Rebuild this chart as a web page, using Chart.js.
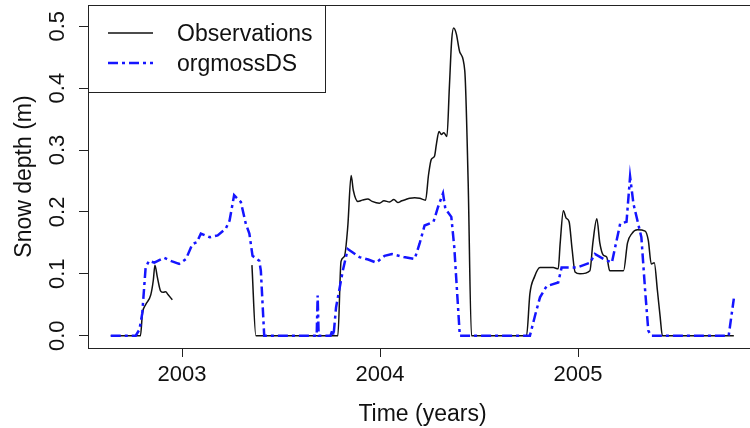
<!DOCTYPE html>
<html>
<head>
<meta charset="utf-8">
<script src="https://cdn.jsdelivr.net/npm/chart.js@4"></script>
<style>
  html, body { margin: 0; padding: 0; background: #fff; overflow: hidden; }
  #wrap { width: 760px; height: 428px; position: relative; }
</style>
</head>
<body>
<div id="wrap"><canvas id="myChart"></canvas></div>
<script>
// observed snow depth (m), null = missing record
const obsTime = [2002.64, 2002.79, 2002.80, 2002.816, 2002.842, 2002.855, 2002.863, 2002.875, 2002.892, 2002.905, 2002.917, 2002.93, 2002.951,
  2003.15,
  2003.353, 2003.373, 2003.787, 2003.803, 2003.82, 2003.837, 2003.854, 2003.865, 2003.888, 2003.91, 2003.938, 2003.96, 2003.997,
  2004.02, 2004.048, 2004.07, 2004.09, 2004.11, 2004.13, 2004.15, 2004.175, 2004.2, 2004.23, 2004.245, 2004.259, 2004.275, 2004.285,
  2004.298, 2004.31, 2004.322, 2004.338, 2004.35, 2004.362, 2004.372, 2004.385, 2004.403, 2004.428, 2004.445, 2004.462,
  2004.74, 2004.757, 2004.78, 2004.808, 2004.875, 2004.9, 2004.91, 2004.926, 2004.94, 2004.955, 2004.97, 2004.985, 2005.01,
  2005.06, 2005.075, 2005.095, 2005.11, 2005.128, 2005.145, 2005.16, 2005.23, 2005.25, 2005.272, 2005.3, 2005.339, 2005.355,
  2005.37, 2005.385, 2005.401, 2005.415, 2005.426, 2005.787];
const obsDepth = [0, 0, 0.036, 0.05, 0.066, 0.09, 0.114, 0.095, 0.072, 0.07, 0.071, 0.066, 0.058,
  null,
  0.114, 0, 0, 0.12, 0.128, 0.176, 0.259, 0.235, 0.217, 0.219, 0.221, 0.217, 0.214,
  0.218, 0.216, 0.22, 0.215, 0.218, 0.22, 0.222, 0.223, 0.222, 0.219, 0.26, 0.285, 0.29, 0.31,
  0.33, 0.325, 0.328, 0.322, 0.4, 0.478, 0.497, 0.488, 0.458, 0.428, 0.25, 0,
  0, 0.068, 0.095, 0.11, 0.11, 0.108, 0.15, 0.202, 0.19, 0.184, 0.14, 0.103, 0.1,
  0.105, 0.15, 0.189, 0.15, 0.13, 0.127, 0.105, 0.105, 0.15, 0.165, 0.171, 0.169, 0.154,
  0.116, 0.118, 0.073, 0.03, 0, 0];

// modelled snow depth (m), orgmossDS run
const simTime = [2002.64, 2002.766, 2002.785, 2002.799, 2002.816, 2002.833, 2002.86, 2002.909, 2002.95, 2002.985, 2003.02, 2003.052,
  2003.075, 2003.095, 2003.14, 2003.18, 2003.221, 2003.24, 2003.263, 2003.297, 2003.322, 2003.34, 2003.356, 2003.39, 2003.398,
  2003.415, 2003.68, 2003.685, 2003.69, 2003.75, 2003.76, 2003.765, 2003.778, 2003.812, 2003.837, 2003.896, 2003.94, 2003.981,
  2004.023, 2004.06, 2004.12, 2004.175, 2004.2, 2004.225, 2004.27, 2004.293, 2004.318, 2004.33, 2004.36, 2004.375, 2004.403,
  2004.757, 2004.785, 2004.808, 2004.841, 2004.9, 2004.917, 2004.993, 2005.061, 2005.085, 2005.128, 2005.171, 2005.213,
  2005.245, 2005.263, 2005.28, 2005.3, 2005.32, 2005.339, 2005.355, 2005.37, 2005.761, 2005.787];
const simDepth = [0, 0, 0.01, 0.036, 0.11, 0.121, 0.118, 0.126, 0.12, 0.116, 0.124, 0.148,
  0.151, 0.165, 0.159, 0.162, 0.173, 0.186, 0.227, 0.216, 0.181, 0.165, 0.129, 0.121, 0.105,
  0, 0, 0.065, 0, 0, 0.01, 0, 0.046, 0.105, 0.14, 0.127, 0.123, 0.118,
  0.129, 0.132, 0.127, 0.124, 0.149, 0.178, 0.184, 0.208, 0.23, 0.205, 0.192, 0.143, 0,
  0, 0.035, 0.062, 0.08, 0.086, 0.11, 0.11, 0.118, 0.132, 0.124, 0.118, 0.181,
  0.184, 0.257, 0.213, 0.186, 0.159, 0.073, 0.008, 0, 0, 0.06];

const xTicks = [2003, 2004, 2005];
const yTicks = [0, 0.1, 0.2, 0.3, 0.4, 0.5];
const yTickLabels = ['0.0', '0.1', '0.2', '0.3', '0.4', '0.5'];

const FONT = '"Liberation Sans", Arial, sans-serif';

const rStyle = {
  id: 'rStyle',
  afterDraw(chart) {
    const ctx = chart.ctx, a = chart.chartArea, ys = chart.scales.y;
    ctx.save();
    // plot box
    ctx.strokeStyle = '#222';
    ctx.lineWidth = 1;
    ctx.strokeRect(a.left + 0.5, a.top + 0.5, a.right - a.left, a.bottom - a.top);
    // y tick labels parallel to the axis
    ctx.fillStyle = '#111';
    ctx.font = '22px ' + FONT;
    ctx.textAlign = 'center';
    ctx.textBaseline = 'middle';
    yTicks.forEach((v, i) => {
      ctx.save();
      ctx.translate(a.left - 30, ys.getPixelForValue(v));
      ctx.rotate(-Math.PI / 2);
      ctx.fillText(yTickLabels[i], 0, 0);
      ctx.restore();
    });
    // legend
    ctx.fillStyle = '#fff';
    ctx.fillRect(a.left + 0.5, a.top + 0.5, 325 - a.left, 87);
    ctx.strokeRect(a.left + 0.5, a.top + 0.5, 325 - a.left, 87);
    const rows = [33, 63];
    chart.data.datasets.forEach((ds, i) => {
      ctx.strokeStyle = ds.borderColor;
      ctx.lineWidth = ds.borderWidth;
      ctx.setLineDash(ds.borderDash || []);
      ctx.beginPath();
      ctx.moveTo(108, rows[i]);
      ctx.lineTo(153, rows[i]);
      ctx.stroke();
      ctx.setLineDash([]);
      ctx.fillStyle = '#111';
      ctx.font = '23px ' + FONT;
      ctx.textAlign = 'left';
      ctx.textBaseline = 'middle';
      ctx.fillText(ds.label, 177, rows[i] + 2);
    });
    ctx.restore();
  }
};

const ctx = document.getElementById('myChart').getContext('2d');
const myChart = new Chart(ctx, {
  type: 'line',
  data: {
    datasets: [{
      label: 'Observations',
      data: obsTime.map((t, i) => ({ x: t, y: obsDepth[i] })),
      borderColor: '#111',
      borderWidth: 1.5,
      pointRadius: 0,
      cubicInterpolationMode: 'monotone',
      spanGaps: false,
      order: 1
    }, {
      label: 'orgmossDS',
      data: simTime.map((t, i) => ({ x: t, y: simDepth[i] })),
      borderColor: '#1515ff',
      borderWidth: 2.5,
      borderDash: [10, 4, 3, 4],
      pointRadius: 0,
      tension: 0,
      order: 0
    }]
  },
  options: {
    responsive: true,
    maintainAspectRatio: false,
    animation: false,
    layout: { padding: { top: 5, right: 3, bottom: 0, left: 0 } },
    plugins: { legend: { display: false }, tooltip: { enabled: false } },
    scales: {
      x: {
        type: 'linear',
        min: 2002.525,
        max: 2005.904,
        afterBuildTicks: s => { s.ticks = xTicks.map(v => ({ value: v })); },
        afterFit: s => { s.height = 80; },
        border: { display: false },
        grid: { drawOnChartArea: false, tickLength: 9, color: '#222' },
        ticks: { color: '#111', padding: 5, maxRotation: 0, font: { family: FONT, size: 22 }, callback: v => String(v) },
        title: { display: true, text: 'Time (years)', color: '#111', font: { family: FONT, size: 23 }, padding: { top: 0, bottom: 0 } }
      },
      y: {
        min: -0.0199,
        max: 0.5343,
        afterBuildTicks: s => { s.ticks = yTicks.map(v => ({ value: v })); },
        afterFit: s => { s.width = 88; },
        border: { display: false },
        grid: { drawOnChartArea: false, tickLength: 9, color: '#222' },
        ticks: { display: false },
        title: { display: true, text: 'Snow depth (m)', color: '#111', font: { family: FONT, size: 23 }, padding: { top: 11, bottom: 0 } }
      }
    }
  },
  plugins: [rStyle]
});
</script>
</body>
</html>
